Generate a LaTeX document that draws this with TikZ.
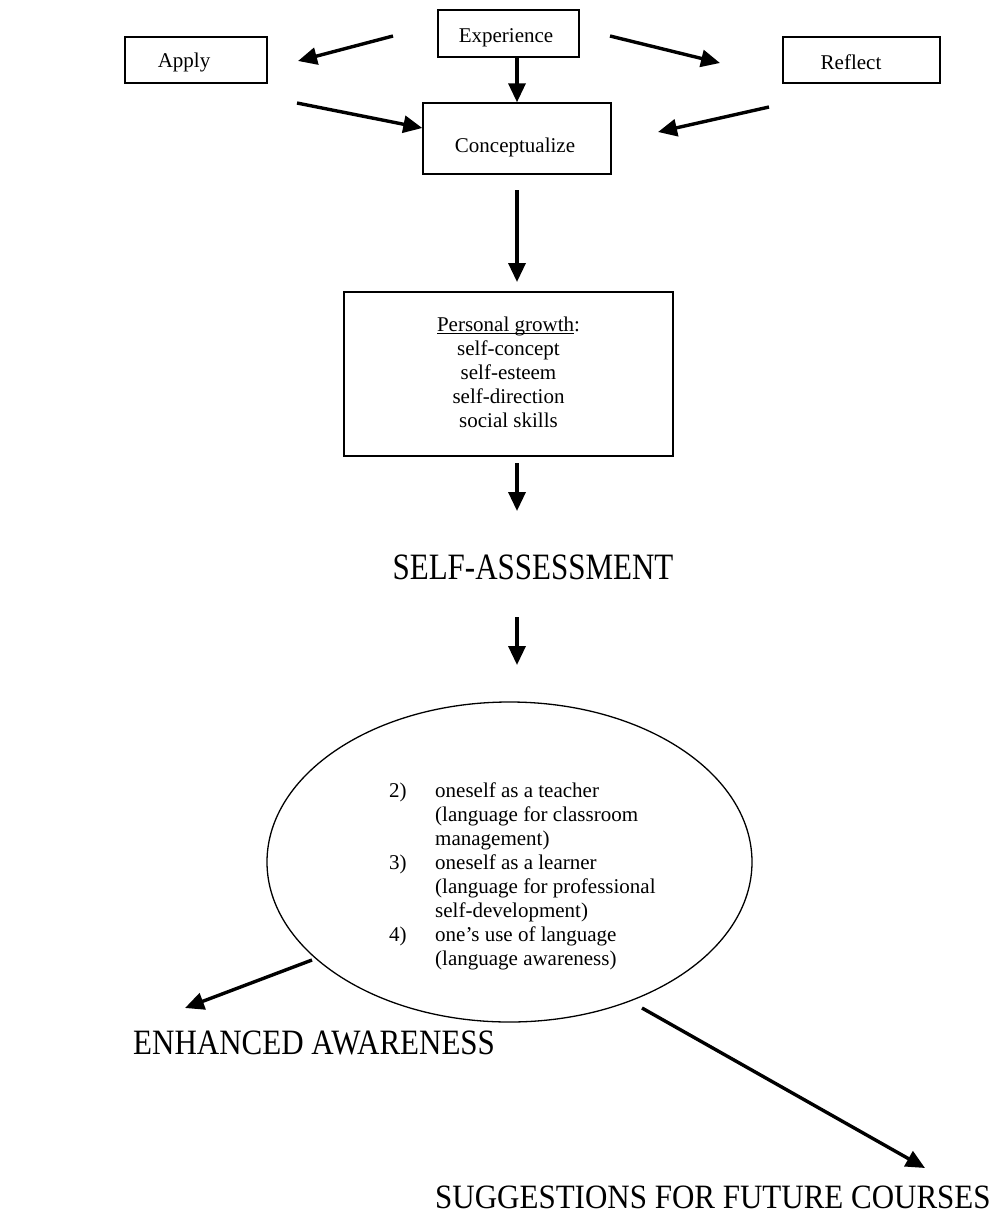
\documentclass[tikz,border=0pt]{standalone}
\usepackage{fontspec}
\usepackage{graphicx}
\setmainfont{Liberation Serif}
\usetikzlibrary{arrows.meta,shapes.geometric,calc}
\newcommand{\myul}[1]{\setbox0\hbox{#1}\rlap{\rule[-2.6pt]{\wd0}{0.9pt}}\box0}
\newcommand{\nodepth}[1]{\raisebox{0pt}[\height][0pt]{#1}}
\begin{document}
\begin{tikzpicture}[x=1pt,y=-1pt,
  box/.style={draw,line width=1.4pt,rectangle,inner sep=0pt},
  txt/.style={inner sep=0pt,anchor=base,font=\fontsize{21}{24}\selectfont},
  arr/.style={line width=3.4pt,-{Triangle[length=19pt,width=17pt]}},
  big/.style={inner sep=0pt,anchor=base,font=\fontsize{31}{36}\selectfont}]
\useasboundingbox (0,0) rectangle (994,1216);
% top cycle
\node[box,minimum width=141pt,minimum height=47pt] (exp) at (508.5,33.5) {};
\node[txt] (exptxt) at (506,42) {Experience};
\node[box,minimum width=142pt,minimum height=46pt] (apply) at (196,60) {};
\node[txt] (applytxt) at (184,67) {Apply};
\node[box,minimum width=157pt,minimum height=46pt] (reflect) at (861.5,60) {};
\node[txt] (reflecttxt) at (851,69) {Reflect};
\node[box,minimum width=188pt,minimum height=71pt] (con) at (517,138.5) {};
\node[txt] (contxt) at (515,152) {Conceptualize};
\coordinate (ea) at (393,36);
\coordinate (eb) at (298,61);
\coordinate (aa) at (297,103);
\coordinate (ra) at (610,36);
\coordinate (rb) at (720,63);
\coordinate (ca) at (769,107);
\coordinate (cb) at (658,132);
\draw[arr] (ea) -- (eb);
\draw[arr] (aa) -- (con.west |- 0,128);
\draw[arr] (ra) -- (rb);
\draw[arr] (ca) -- (cb);
\draw[arr] (exp.south -| con.north) -- (con.north);
% personal growth
\node[box,minimum width=329pt,minimum height=164pt] (pg) at (508.5,374) {};
\node[txt,anchor=north,align=center] (pgtxt) at (508.5,317)
  {\myul{Personal growth}:\\self-concept\\self-esteem\\self-direction\\social skills};
\coordinate (c1) at (517,190);
\coordinate (c2) at (517,282);
\draw[arr] (c1) -- (c2);
\coordinate (p1) at (517,463);
\coordinate (p2) at (517,511);
\draw[arr] (p1) -- (p2);
\node[big] (sa) at (533,579) {\scalebox{1}[1.2]{SELF-ASSESSMENT}};
\coordinate (s1) at (517,617);
\coordinate (s2) at (517,665);
\draw[arr] (s1) -- (s2);
% ellipse
\node[draw,line width=1.3pt,ellipse,minimum width=485pt,minimum height=320pt] (ell) at (509.5,862) {};
\node[anchor=north west,inner sep=0pt,font=\fontsize{21}{24}\selectfont] (items) at (389,780)
{\begin{tabular}{@{}p{46pt}@{}l@{}}
2) & oneself as a teacher\\
   & (language for classroom\\
   & management)\\
3) & oneself as a learner\\
   & (language for professional\\
   & self-development)\\
4) & one’s use of language\\
   & (language awareness)
\end{tabular}};
% outputs
\node[big,anchor=base west] (enh) at (133,1054) {\scalebox{1}[1.15]{ENHANCED AWARENESS}};
\node[big,anchor=base west] (sfc) at (435,1208) {\nodepth{\scalebox{1}[1.1]{SUGGESTIONS FOR FUTURE COURSES}}};
\coordinate (l1) at (312,960);
\coordinate (l2) at (185,1008);
\coordinate (r1) at (642,1008);
\coordinate (r2) at (925,1168);
\draw[arr] (l1) -- (l2);
\draw[arr] (r1) -- (r2);
\end{tikzpicture}
\end{document}
